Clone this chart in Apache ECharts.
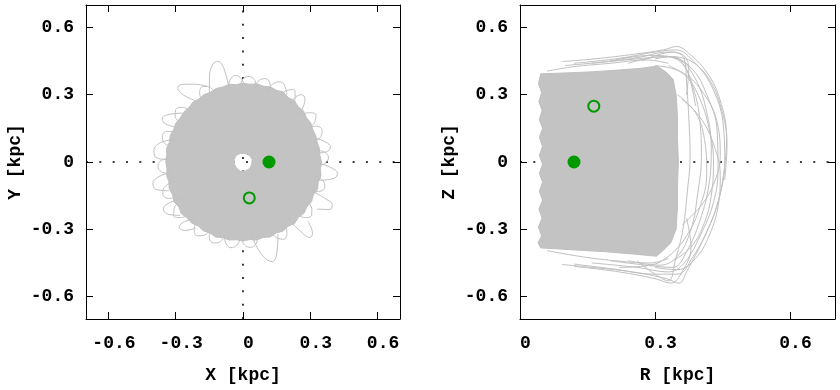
<!DOCTYPE html>
<html><head><meta charset="utf-8">
<script src="https://cdn.jsdelivr.net/npm/echarts@6/dist/echarts.min.js"></script>
<style>html,body{margin:0;padding:0;background:#fff}#c{width:840px;height:390px}</style>
</head><body><div id="c"></div>
<script>
// ---- tick values ----
const xyTicks = [-0.6, -0.3, 0, 0.3, 0.6];
const rTicks = [0, 0.3, 0.6];

// ---- X-Y panel: envelope of the densely covered orbit region (polar: radius kpc, angle deg) ----
const envAngle = [0,5,10,15,20,25,30,35,40,45,50,55,60,65,70,75,80,85,90,95,
  100,105,110,115,120,125,130,135,140,145,150,155,160,165,170,175,180,185,190,195,
  200,205,210,215,220,225,230,235,240,245,250,255,260,265,270,275,280,285,290,295,
  300,305,310,315,320,325,330,335,340,345,350,355];
const envR = [0.350,0.344,0.346,0.342,0.345,0.343,0.349,0.345,0.353,0.348,
  0.357,0.351,0.360,0.353,0.356,0.350,0.354,0.348,0.351,0.346,
  0.352,0.346,0.349,0.343,0.347,0.343,0.348,0.342,0.345,0.342,
  0.346,0.341,0.345,0.340,0.346,0.341,0.344,0.340,0.346,0.342,
  0.350,0.346,0.355,0.349,0.359,0.352,0.356,0.348,0.354,0.349,
  0.356,0.349,0.353,0.348,0.352,0.347,0.353,0.348,0.356,0.349,
  0.356,0.350,0.358,0.349,0.355,0.348,0.353,0.346,0.354,0.347,
  0.353,0.346];
// central empty hole (listed in reverse angular order)
const holeAngle = [345,315,285,255,225,195,165,135,105,75,45,15];
const holeR = [0.040,0.042,0.041,0.043,0.040,0.039,0.041,0.042,0.040,0.039,0.041,0.043];

// ---- X-Y panel: long orbit loops sticking out of the dense region [X, Y] kpc ----
const xyLoops = [
  [[-0.150,0.31],[-0.149,0.39],[-0.133,0.437],[-0.113,0.449],[-0.094,0.435],[-0.078,0.395],[-0.062,0.33]],
  [[0.105,0.31],[0.130,0.345],[0.158,0.357],[0.182,0.348],[0.196,0.30]],
  [[0.205,0.255],[0.235,0.290],[0.262,0.300],[0.276,0.283],[0.268,0.245],[0.250,0.215]],
  [[-0.16,0.338],[-0.22,0.347],[-0.268,0.346],[-0.291,0.333],[-0.28,0.31],[-0.24,0.285],[-0.20,0.27]],
  [[-0.27,0.218],[-0.33,0.212],[-0.360,0.196],[-0.352,0.174],[-0.30,0.155]],
  [[-0.31,0.10],[-0.37,0.085],[-0.397,0.052],[-0.39,0.022],[-0.33,0.01]],
  [[-0.32,-0.045],[-0.38,-0.068],[-0.402,-0.095],[-0.388,-0.122],[-0.33,-0.128]],
  [[-0.28,-0.165],[-0.33,-0.183],[-0.355,-0.207],[-0.338,-0.232],[-0.28,-0.238]],
  [[-0.215,-0.255],[-0.265,-0.268],[-0.285,-0.29],[-0.262,-0.305],[-0.21,-0.295]],
  [[0.04,-0.33],[0.068,-0.39],[0.103,-0.433],[0.132,-0.444],[0.150,-0.41],[0.156,-0.32]],
  [[0.21,-0.265],[0.258,-0.31],[0.298,-0.337],[0.31,-0.318],[0.29,-0.265]],
  [[0.32,-0.135],[0.37,-0.165],[0.398,-0.19],[0.388,-0.212],[0.33,-0.21]],
  [[0.34,-0.005],[0.398,-0.028],[0.421,-0.05],[0.408,-0.072],[0.34,-0.082]],
  [[0.33,0.105],[0.37,0.088],[0.39,0.068],[0.378,0.048],[0.33,0.04]]
];
// ---- X-Y panel: short loops forming the rim of the dense region (polar: [radius, angle]) ----
const xyRimLoops = [
  [[0.33,-3],[0.365,-1],[0.382,3],[0.365,7],[0.33,9]],
  [[0.33,16],[0.365,18],[0.380,22],[0.365,26],[0.33,28]],
  [[0.33,27],[0.365,29],[0.388,33],[0.365,37],[0.33,39]],
  [[0.34,49],[0.37,51],[0.395,55],[0.37,59],[0.34,61]],
  [[0.34,69],[0.37,71],[0.385,75],[0.37,79],[0.34,81]],
  [[0.34,80],[0.37,82],[0.382,86],[0.37,90],[0.34,92]],
  [[0.34,89],[0.37,91],[0.388,95],[0.37,99],[0.34,101]],
  [[0.33,112],[0.365,114],[0.382,118],[0.365,122],[0.33,124]],
  [[0.33,136],[0.365,138],[0.380,142],[0.365,146],[0.33,148]],
  [[0.33,156],[0.365,158],[0.378,162],[0.365,166],[0.33,168]],
  [[0.33,177],[0.365,179],[0.380,183],[0.365,187],[0.33,189]],
  [[0.34,196],[0.37,198],[0.386,202],[0.37,206],[0.34,208]],
  [[0.34,212],[0.37,214],[0.392,218],[0.37,222],[0.34,224]],
  [[0.34,232],[0.37,234],[0.388,238],[0.37,242],[0.34,244]],
  [[0.34,244],[0.37,246],[0.384,250],[0.37,254],[0.34,256]],
  [[0.34,256],[0.37,258],[0.386,262],[0.37,266],[0.34,268]],
  [[0.34,269],[0.37,271],[0.382,275],[0.37,279],[0.34,281]],
  [[0.34,292],[0.37,294],[0.390,298],[0.37,302],[0.34,304]],
  [[0.34,316],[0.37,318],[0.388,322],[0.37,326],[0.34,328]],
  [[0.33,337],[0.365,339],[0.382,343],[0.365,347],[0.33,349]]
];

// ---- R-Z panel: envelope of the densely covered region [R, Z] kpc ----
const rzBoxR = [0.046,0.10,0.16,0.22,0.27,0.305,0.325,0.340,0.347,0.350,0.350,0.352,0.350,0.350,0.347,0.335,0.318,0.303,
  0.25,0.19,0.13,0.08,0.046,0.040,0.048,0.041,0.049,0.042,0.050,0.043,0.050,0.043,0.050,0.043,0.050,0.043,0.050,0.043,0.049,0.042,0.048,0.041];
const rzBoxZ = [0.393,0.397,0.402,0.410,0.418,0.428,0.40,0.37,0.30,0.20,0.10,0.0,-0.10,-0.20,-0.30,-0.36,-0.395,-0.42,
  -0.41,-0.40,-0.393,-0.387,-0.383,-0.36,-0.33,-0.29,-0.25,-0.21,-0.17,-0.13,-0.09,-0.05,-0.01,0.03,0.07,0.11,0.15,0.19,0.23,0.27,0.31,0.35];

// ---- R-Z panel: orbit arcs outside the dense region [R, Z] kpc ----
const rzArcs = [
  [[0.093,0.448],[0.156,0.458],[0.244,0.478],[0.319,0.500],[0.348,0.515],[0.372,0.49],[0.415,0.40],[0.444,0.28],[0.459,0.11],[0.452,-0.06],[0.437,-0.20],[0.407,-0.345],[0.37,-0.49],[0.354,-0.54],[0.325,-0.52],[0.25,-0.49],[0.16,-0.47],[0.093,-0.457]],
  [[0.12,0.44],[0.22,0.462],[0.30,0.49],[0.345,0.50],[0.39,0.44],[0.43,0.32],[0.452,0.16],[0.455,0.0],[0.445,-0.14],[0.42,-0.29],[0.385,-0.42],[0.35,-0.50],[0.30,-0.50],[0.20,-0.475],[0.12,-0.455]],
  [[0.16,0.44],[0.26,0.46],[0.33,0.47],[0.38,0.42],[0.415,0.30],[0.438,0.14],[0.44,-0.03],[0.43,-0.18],[0.40,-0.33],[0.365,-0.45],[0.33,-0.49],[0.26,-0.47],[0.16,-0.45]],
  [[0.20,0.45],[0.29,0.475],[0.35,0.46],[0.39,0.37],[0.415,0.22],[0.425,0.06],[0.42,-0.10],[0.40,-0.26],[0.37,-0.40],[0.34,-0.47],[0.28,-0.46],[0.20,-0.44]],
  [[0.24,0.44],[0.32,0.47],[0.36,0.44],[0.385,0.33],[0.40,0.18],[0.403,0.02],[0.395,-0.14],[0.38,-0.30],[0.35,-0.42],[0.31,-0.46],[0.24,-0.44]],
  [[0.27,0.45],[0.34,0.49],[0.365,0.46],[0.37,0.36],[0.375,0.2],[0.378,0.03],[0.372,-0.13],[0.362,-0.30],[0.345,-0.44],[0.33,-0.53],[0.30,-0.50],[0.26,-0.44]],
  [[0.30,0.43],[0.36,0.40],[0.41,0.30],[0.44,0.16],[0.445,0.03],[0.43,-0.10],[0.40,-0.20],[0.36,-0.28]],
  [[0.36,0.28],[0.40,0.20],[0.43,0.08],[0.445,-0.06],[0.44,-0.20],[0.42,-0.33],[0.39,-0.43],[0.35,-0.48],[0.30,-0.47]],
  [[0.06,0.405],[0.12,0.425],[0.20,0.44],[0.28,0.455],[0.33,0.44]],
  [[0.06,-0.395],[0.13,-0.42],[0.21,-0.44],[0.29,-0.45],[0.33,-0.43]],
  [[0.33,0.43],[0.37,0.38],[0.40,0.28],[0.42,0.15],[0.43,0.0],[0.425,-0.15],[0.41,-0.27],[0.38,-0.38],[0.34,-0.44]],
  [[0.30,0.46],[0.34,0.47],[0.365,0.43],[0.38,0.35],[0.39,0.25]],
  [[0.35,0.30],[0.39,0.22],[0.41,0.10],[0.415,-0.05],[0.40,-0.20],[0.37,-0.33],[0.33,-0.42],[0.29,-0.46],[0.22,-0.47]],
  [[0.10,0.43],[0.18,0.445],[0.26,0.465],[0.33,0.49],[0.36,0.48],[0.375,0.42],[0.37,0.30]],
  [[0.37,-0.25],[0.38,-0.38],[0.36,-0.49],[0.335,-0.54],[0.30,-0.52],[0.22,-0.49],[0.12,-0.465]],
  [[0.34,0.47],[0.38,0.45],[0.42,0.37],[0.447,0.24],[0.46,0.08],[0.455,-0.08]]
];

// ---- current (filled) and initial (open) positions ----
const xyNow = [[0.116, 0.0]];
const xyStart = [[0.028, -0.160]];
const rzNow = [[0.120, 0.0]];
const rzStart = [[0.164, 0.249]];

const FONT = "'Liberation Mono', 'DejaVu Sans Mono', monospace";
const GRAY = '#c0c0c0';
const FILL = '#c3c3c3';
const GREEN = '#009900';
const fmt = v => (v === 0 ? '0' : String(v));
const txt = {fontFamily: FONT, fontSize: 18, fontWeight: 'bold', color: '#000'};

function xAx(grid, min, max, ticks, pos, name) {
  const main = pos === 'bottom';
  return {
    gridIndex: grid, type: 'value', min: min, max: max, position: pos,
    axisLine: {show: true, onZero: false, lineStyle: {color: '#000', width: 1}},
    axisTick: {show: true, inside: true, length: 7, customValues: ticks, lineStyle: {color: '#000', width: 1}},
    axisLabel: main ? Object.assign({show: true, customValues: ticks, formatter: fmt, margin: 15, padding: [0, 0, 0, 11]}, txt) : {show: false},
    splitLine: {show: false},
    name: main ? name : '', nameLocation: 'middle', nameGap: 47, nameTextStyle: txt
  };
}
function yAx(grid, ticks, pos, name) {
  const main = pos === 'left';
  return {
    gridIndex: grid, type: 'value', min: -0.7, max: 0.7, position: pos,
    axisLine: {show: true, onZero: false, lineStyle: {color: '#000', width: 1}},
    axisTick: {show: true, inside: true, length: 7, customValues: ticks, lineStyle: {color: '#000', width: 1}},
    axisLabel: main ? Object.assign({show: true, customValues: ticks, formatter: fmt, margin: 12, padding: [3, 0, 0, 0]}, txt) : {show: false},
    splitLine: {show: false},
    name: main ? name : '', nameLocation: 'middle', nameGap: 62, nameTextStyle: txt
  };
}

const series = [];
// dotted zero axes (below the orbit)
const dotted = {color: '#000', width: 1.5, type: [2, 11.33]};
series.push({type: 'line', xAxisIndex: 0, yAxisIndex: 0, data: [[0, 0]], showSymbol: false, silent: true, z: 1,
  lineStyle: {opacity: 0},
  markLine: {silent: true, z: 1, symbol: ['none', 'none'], label: {show: false}, animation: false,
    lineStyle: dotted, data: [{xAxis: 0}, {yAxis: 0}]}});
series.push({type: 'line', xAxisIndex: 2, yAxisIndex: 2, data: [[0, 0]], showSymbol: false, silent: true, z: 1,
  lineStyle: {opacity: 0},
  markLine: {silent: true, z: 1, symbol: ['none', 'none'], label: {show: false}, animation: false,
    lineStyle: dotted, data: [{yAxis: 0}]}});

// X-Y dense region (with central hole)
series.push({type: 'custom', coordinateSystem: 'polar', polarIndex: 0, data: [[0, 0]], z: 2, silent: true,
  renderItem: function (params, api) {
    let d = '';
    envR.forEach((r, i) => { const p = api.coord([r, envAngle[i]]); d += (i ? 'L' : 'M') + p[0].toFixed(2) + ' ' + p[1].toFixed(2); });
    d += 'Z';
    holeR.forEach((r, i) => { const p = api.coord([r, holeAngle[i]]); d += (i ? 'L' : 'M') + p[0].toFixed(2) + ' ' + p[1].toFixed(2); });
    d += 'Z';
    return {type: 'path', shape: {pathData: d}, style: {fill: FILL, stroke: GRAY, lineWidth: 1}};
  }});
xyLoops.forEach(loop => series.push({type: 'line', xAxisIndex: 0, yAxisIndex: 0, data: loop, smooth: 0.4,
  symbol: 'none', silent: true, z: 3, lineStyle: {color: GRAY, width: 1}}));
xyRimLoops.forEach(loop => series.push({type: 'line', coordinateSystem: 'polar', polarIndex: 0, data: loop, smooth: 0.4,
  symbol: 'none', silent: true, z: 3, lineStyle: {color: GRAY, width: 1}}));

// R-Z dense region
series.push({type: 'custom', xAxisIndex: 2, yAxisIndex: 2, data: [[0, 0]], z: 2, silent: true,
  renderItem: function (params, api) {
    const pts = rzBoxR.map((r, i) => api.coord([r, rzBoxZ[i]]));
    return {type: 'polygon', shape: {points: pts}, style: {fill: FILL, stroke: GRAY, lineWidth: 1}};
  }});
rzArcs.forEach(arc => series.push({type: 'line', xAxisIndex: 2, yAxisIndex: 2, data: arc, smooth: 0.4,
  symbol: 'none', silent: true, z: 3, lineStyle: {color: GRAY, width: 1}}));

// markers
function markers(xi, yi, now, start) {
  series.push({type: 'scatter', xAxisIndex: xi, yAxisIndex: yi, data: now, symbol: 'circle', symbolSize: 13, z: 10,
    itemStyle: {color: GREEN, opacity: 1}});
  series.push({type: 'scatter', xAxisIndex: xi, yAxisIndex: yi, data: start, symbol: 'circle', symbolSize: 11, z: 10,
    itemStyle: {color: 'rgba(0,0,0,0)', borderColor: GREEN, borderWidth: 2, opacity: 1}});
}
markers(0, 0, xyNow, xyStart);
markers(2, 2, rzNow, rzStart);

const chart = echarts.init(document.getElementById('c'), null, {renderer: 'canvas'});
chart.setOption({
  animation: false,
  backgroundColor: '#fff',
  grid: [
    {left: 86, top: 5, width: 314, height: 314, containLabel: false, outerBoundsMode: 'none'},
    {left: 520, top: 5, width: 315, height: 314, containLabel: false, outerBoundsMode: 'none'}
  ],
  polar: {center: [243, 162], radius: 157},
  radiusAxis: {polarIndex: 0, type: 'value', min: 0, max: 0.7, axisLine: {show: false}, axisTick: {show: false}, axisLabel: {show: false}, splitLine: {show: false}},
  angleAxis: {polarIndex: 0, type: 'value', min: -90, max: 270, startAngle: -90, clockwise: false, axisLine: {show: false}, axisTick: {show: false}, axisLabel: {show: false}, splitLine: {show: false}},
  xAxis: [
    xAx(0, -0.7, 0.7, xyTicks, 'bottom', 'X [kpc]'),
    xAx(0, -0.7, 0.7, xyTicks, 'top', ''),
    xAx(1, 0, 0.7, rTicks, 'bottom', 'R [kpc]'),
    xAx(1, 0, 0.7, rTicks, 'top', '')
  ],
  yAxis: [
    yAx(0, xyTicks, 'left', 'Y [kpc]'),
    yAx(0, xyTicks, 'right', ''),
    yAx(1, xyTicks, 'left', 'Z [kpc]'),
    yAx(1, xyTicks, 'right', '')
  ],
  series: series
});
</script></body></html>
